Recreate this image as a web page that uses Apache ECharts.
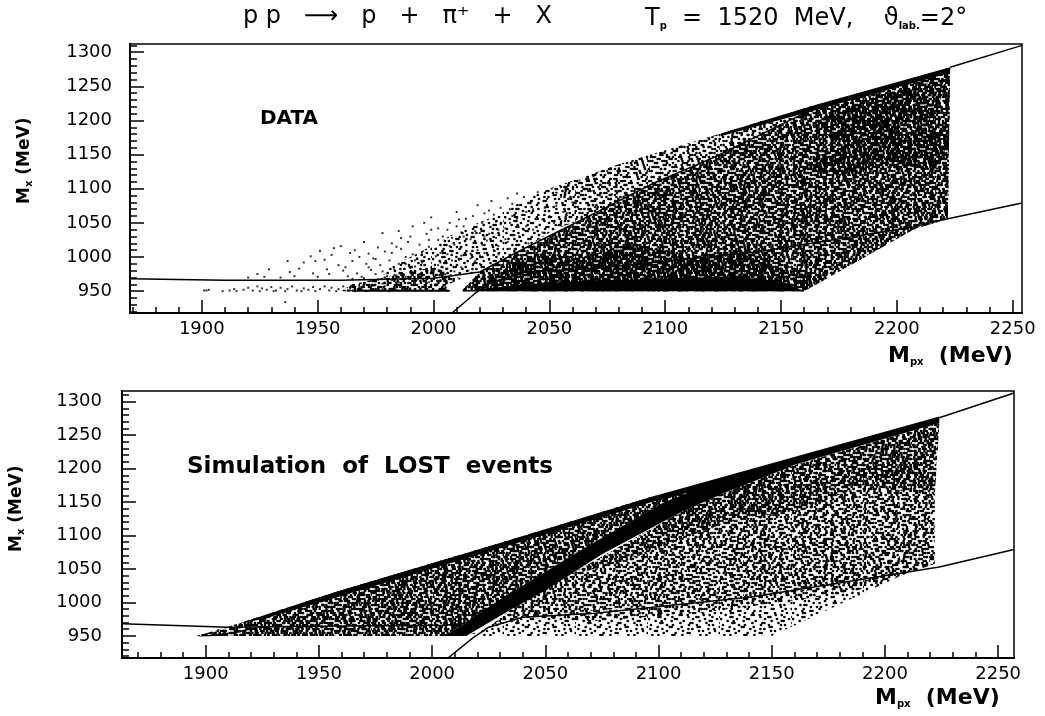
<!DOCTYPE html>
<html>
<head>
<meta charset="utf-8">
<style>html,body{margin:0;background:#fff}#chart{width:1045px;height:716px}</style>
<script src="https://cdn.jsdelivr.net/npm/echarts@6/dist/echarts.min.js"></script>
</head>
<body>
<div id="chart"></div>
<script>
const FONT = '"DejaVu Sans"';

// tick values
const xMajor = [1900, 1950, 2000, 2050, 2100, 2150, 2200, 2250];
const xMinor = [1870, 1880, 1890, 1910, 1920, 1930, 1940, 1960, 1970, 1980, 1990, 2010, 2020, 2030, 2040, 2060, 2070, 2080, 2090, 2110, 2120, 2130, 2140, 2160, 2170, 2180, 2190, 2210, 2220, 2230, 2240];
const yMajor = [950, 1000, 1050, 1100, 1150, 1200, 1250, 1300];
const yMinor = [920, 930, 940, 960, 970, 980, 990, 1010, 1020, 1030, 1040, 1060, 1070, 1080, 1090, 1110, 1120, 1130, 1140, 1160, 1170, 1180, 1190, 1210, 1220, 1230, 1240, 1260, 1270, 1280, 1290, 1310];

// kinematic limit lines
const topUpperLine = [[2223, 1278], [2254, 1310]];
const topMiddleLine = [[1869, 968], [1910, 966], [1960, 966], [2000, 969], [2020, 978], [2040, 1014], [2066, 1058], [2095, 1108], [2121, 1146], [2167, 1222]];
const topLowerLine = [[2008, 918], [2018, 947], [2025, 963], [2040, 978], [2072, 984], [2141, 1008], [2207, 1044], [2219, 1054], [2254, 1079]];
const botUpperLine = [[2224, 1276], [2257, 1313]];
const botMiddleLine = [[1863, 968], [1910, 963], [1960, 965], [2005, 966], [2015, 969], [2037, 1019]];
const botLowerLine = [[2007, 917], [2018, 947], [2025, 963], [2040, 978], [2072, 984], [2141, 1008], [2224, 1053], [2257, 1079]];

// isolated events of the DATA plot
const topSparse = [
  [1901,951],[1902,951],[1903,952],[1909,950],[1912,951],[1914,953],[1915,950],[1918,952],[1920,955],[1922,951],[1924,957],[1925,950],[1926,954],[1928,952],[1930,956],[1931,950],[1932,951],[1934,955],[1936,950],[1937,953],[1939,957],[1941,951],[1943,950],[1944,954],[1946,952],[1948,956],[1949,950],[1951,953],[1953,957],[1955,951],[1956,955],[1958,950],[1959,953],[1961,957],[1963,951],[1964,954],[1966,950],[1968,956],[1969,952],[1971,950],[1973,955],[1974,958],[1976,951],[1978,953],[1979,957],[1981,950],[1983,955],[1984,952],[1986,958],[1988,951],[1990,954],[1936,934],
  [1920,970],[1924,975],[1929,982],[1927,971],[1934,970],[1937,994],[1938,978],[1940,972],[1944,992],[1942,983],[1947,1001],[1948,976],[1950,971],[1951,1009],[1949,994],[1954,982],[1955,975],[1957,1013],[1953,996],[1959,988],[1960,1016],[1961,980],[1956,1003],[1963,972],[1964,1006],[1965,994],[1962,985],[1967,976],[1968,1000],[1969,971],[1970,1022],[1971,990],[1966,1010],[1973,981],[1974,998],[1975,975],[1976,1014],[1977,988],[1978,1035],[1972,1005],[1980,972],[1981,995],[1982,1020],[1983,982],[1979,1008],[1985,990],[1986,1028],[1987,975],[1988,1000],[1984,1015],[1990,984],[1991,1045],[1992,995],[1989,1022],[1994,975],[1995,1006],[1996,988],[1997,1034],[1993,998],[1999,1058],[2000,980],[2001,1012],[2002,1042],[2003,992],[1998,1025],[2005,975],[2006,1004],[2007,1050],[2004,985],[2009,1018],[2010,1066],[2011,996],[2012,1036],[2008,1008],[2014,1056],[2015,980],[2016,1026],[2017,990],[2013,1045],[2019,1076],[2020,1002],[2021,1018],[2022,1064],[2018,994],[2024,1034],[2025,1082],[2026,1010],[2027,1052],[2023,1024],[2029,1072],[2030,1000],[2031,1042],[2032,1086],[2028,1016],[2034,1060],[2035,1032],[2036,1093],[2037,1076],[2033,1050],[2039,1088],[2040,1066],
  [1996,1050],[1985,1038],[1990,1030],[2002,1025],[2006,1040],[2010,1045],[2013,1030],[2017,1060],[2021,1050],[2024,1068],[2028,1040],[2031,1058],[2034,1078],[2037,1030],[2040,1045],[2043,1070],[2045,1095],[2047,1055],[2049,1085],[2051,1100],[2053,1075],[2043,1040],[2046,1025],[2050,1060],[1998,1015],[2003,1006],[2008,1028],[2012,1014],[2016,1005],[2020,1035],[2023,1006],[2027,1028],[2031,1026],[2035,1012],[2038,1002],[2041,1020],
  [1972,985],[1975,997],[1978,979],[1982,1006],[1986,1012],[1991,1004],[1994,1018],[1997,1006],[1999,1040],[2001,1001],[2004,1030],[2007,1016],[2011,1055],[2014,1004],[2018,1038],[2022,1030],[2026,1062],[2029,1048],[2033,1070],[2036,1056],[2039,1040],[2042,1082],[2044,1012],[2047,1036],[2048,1072],[2052,1050],[2055,1088],[2058,1104],[2056,1066],[2060,1080],[2063,1112],[2062,1094],[2066,1100],[2069,1118],[2067,1076],[2072,1106],[2075,1126],[2077,1092],[2080,1130],
  [1965,968],[1970,969],[1976,967],[1982,966],[1988,971],[1993,967],[1998,963],[2001,960],[2003,966],[1992,960],[1985,963],[1978,961],[1970,960],[1995,973],[1990,978],[1984,973],[1979,970],[2000,978],[1997,982],[1992,986],[1988,990],[1995,992],[2002,988],[2006,983],[2009,979],[2012,985],[2016,998],[2020,990],[2024,996],[2019,1010],[2028,1004],[2033,1012],[2037,1018],[2032,1022],[2027,1018],[2022,1006],[2012,1002],[2008,995]
];

const topRegions = [
  { tile: 'pale', outline: [[1976,975],[1990,1000],[2000,1018],[2012,1040],[2028,1062],[2040,1085],[2050,1100],[2060,1078],[2052,1040],[2040,1014],[2020,978],[2003,972]] },
  { tile: 'soft', outline: [[2050,1100],[2081,1137],[2124,1181],[2167,1225],[2150,1190],[2121,1146],[2095,1108],[2085,1100],[2066,1085],[2060,1078]] },
  { tile: 'soft', outline: [[2066,1085],[2095,1108],[2066,1058],[2052,1040],[2060,1078]] },
  { tile: 'dark', outline: [[2020,978],[2040,1014],[2066,1058],[2095,1108],[2121,1146],[2167,1222],[2223,1278],[2222,1056],[2207,1040],[2160,950],[2012,950]] },
  { tile: 'darkest', outline: [[2160,1130],[2175,1120],[2195,1135],[2218,1128],[2222,1170],[2216,1200],[2222,1262],[2190,1235],[2165,1200],[2172,1170]] },
  { tile: 'darkest', outline: [[2020,958],[2160,958],[2168,968],[2150,985],[2135,1010],[2110,1002],[2085,1020],[2065,1000],[2045,1005],[2032,985]] },
  { tile: 'mid', outline: [[1960,950],[2007,950],[2005,958],[2012,968],[2000,985],[1985,975],[1965,960]] },
  { tile: 'solid', outline: [[2012,950],[2160,950],[2152,962],[2130,972],[2100,968],[2070,966],[2040,960]] },
  { tile: 'solid', outline: [[1965,949],[2007,949],[2007,952],[1965,952]] },
  { tile: 'solid', outline: [[2124,1181],[2167,1225],[2223,1278],[2223,1270],[2167,1217],[2124,1177]] }
];
const botRegions = [
  { tile: 'dark', outline: [[1896,950],[2005,950],[2015,969],[2037,1019],[2068,1083],[2102,1149],[2150,1200],[2150,1200],[2097,1158],[2037,1096],[1956,1014],[1915,969]] },
  { tile: 'dark', outline: [[2110,1135],[2130,1165],[2160,1205],[2224,1268],[2222,1160],[2190,1175],[2165,1140],[2130,1120],[2085,1062],[2060,1040]] },
  { tile: 'mid', outline: [[2025,963],[2035,990],[2060,1040],[2085,1062],[2130,1120],[2165,1140],[2190,1175],[2222,1160],[2222,1058],[2207,1040],[2160,1015],[2100,995],[2060,985],[2040,978]] },
  { tile: 'pale', outline: [[2015,950],[2150,950],[2207,1040],[2160,1015],[2100,995],[2060,985],[2040,978],[2025,963]] },
  { tile: 'soft', outline: [[2040,978],[2060,985],[2100,995],[2160,1015],[2207,1040],[2185,1015],[2120,985],[2070,972]] },
  { tile: 'solid', outline: [[2005,950],[2015,950],[2035,990],[2050,1018],[2075,1072],[2110,1135],[2130,1165],[2160,1205],[2150,1200],[2125,1180],[2102,1149],[2068,1083],[2037,1019],[2015,969]] },
  { tile: 'solid', outline: [[1915,969],[1956,1014],[2037,1096],[2097,1158],[2224,1278],[2224,1268],[2150,1196],[2097,1150],[2037,1088],[1956,1006],[1925,975]] },
  { tile: 'solid', outline: [[1896,949],[1912,956],[1925,965],[1915,955],[1905,950]] }
];

// stipple bitmaps, # is a black dot. Sizes differ so the layers do not line up
const tileRows = {
  a: [
    "#....##.....#...#.....##...#.....#..",
    "..#......#.....##..#.......#..#.....",
    "....##.....#.......#...##......#...#",
    "#.......#....##.......#.....#.....#.",
    "...#..#....#.....#.......#....##....",
    ".....##........#....##......#......#",
    ".#.......#..#.......#...#.....#.#...",
    "....#.....##....#.......##.........#",
    "#.....#.......#....#.#.......#..#...",
    "...##....#.......#.......#.#.....#..",
    ".......#.....#.....##.........#....#",
    ".#..#......##...#........#..#.......",
    "......#.#.......#....#.......##...#.",
    "#.........#..#......##..#..........#",
    "...#.##.........#........#...#.#....",
    ".........#..#.#.....#.#.......#.....",
    ".#...#.......#...........##.....#..#",
    "....#...##......#..#..........#....."
  ],
  b: [
    ".##......#....##.......#.",
    "....#.......#......##....",
    "#.....##.......#.......#.",
    "...#.......#.....##......",
    ".......#.#.....#.....#...",
    ".##.........#........#..#",
    ".....#.#.......##.......#",
    "#..........#.......#.....",
    "...##...#.......#.....#..",
    ".......#.....#.......##..",
    ".#.........##.....#......",
    "....#.#...........#...#..",
    "#.......#...#.........#.."
  ],
  c: [
    "...##.....#........##......#...",
    "#.......#.....##........#.....#",
    "...#........#.......#.....##...",
    ".......##.......#........#.....",
    ".#..........#.......##.......#.",
    ".....#..#........#........#....",
    "##..........##.......#.......#.",
    ".....#...........#.......##....",
    "..#......##...#........#......#",
    "......#..........#.#.........#.",
    "#...........#..........##......",
    "....##...#.......##.........#..",
    ".........#..#........#.#.......",
    ".#....#..........#.........#..#",
    "........#.##.........#.........",
    "..#..........#...........##....",
    "......##........#..#.........#."
  ],
  d: [
    "##..#....##..#...#.",
    "...##..#....##.#..#",
    "#....#..##.....##..",
    ".##.....#..#.#....#",
    "...#.##.....##..#..",
    "#....#..#.#.....##.",
    ".##.#.....##.#.....",
    "....##.#.....#..##.",
    "#.#.....##.#....#..",
    "...##.#....#..#...#",
    ".#....#.##....##..."
  ],
  e: [
    "#...##...#..#....##...#",
    "..#....#...#..##.....#.",
    "....#.#..#.....#..#....",
    ".##.....#...##....#.#..",
    "#...#.....#.....#....##",
    "..#...##.....#.#...#...",
    "#.....#..##.#....#....#",
    "...#.#.......#.#...##..",
    ".#.....#.#.#.......#.#."
  ]
};

const CELL = 2;

function makeTile(rows) {
  const c = document.createElement('canvas');
  c.width = rows[0].length * CELL;
  c.height = rows.length * CELL;
  const ctx = c.getContext('2d');
  ctx.fillStyle = '#000';
  rows.forEach((row, y) => {
    for (let x = 0; x < row.length; x++) {
      if (row[x] !== '#') continue;
      // stagger the rows a little so the dots do not sit in columns
      ctx.beginPath();
      ctx.arc(x * CELL + (y % 3) * 0.7 + 1, y * CELL + 1, 1.35, 0, Math.PI * 2);
      ctx.fill();
    }
  });
  return { image: c, repeat: 'repeat' };
}

const tiles = {
  a: makeTile(tileRows.a),
  b: makeTile(tileRows.b),
  c: makeTile(tileRows.c),
  d: makeTile(tileRows.d),
  e: makeTile(tileRows.e)
};

// each darkness level is a stack of fills
const fills = {
  solid: ['#000'],
  pale: [tiles.a],
  soft: [tiles.a, tiles.b],
  mid: [tiles.a, tiles.b, tiles.c],
  dark: [tiles.a, tiles.b, tiles.c, tiles.d],
  darkest: [tiles.a, tiles.b, tiles.c, tiles.d, tiles.e]
};

function regionSeries(region, axisIndex) {
  return {
    type: 'custom',
    xAxisIndex: axisIndex,
    yAxisIndex: axisIndex,
    silent: true,
    z: 2,
    data: region.outline,
    encode: { x: 0, y: 1 },
    renderItem: (params, api) => {
      if (params.dataIndex !== 0) return null;
      const points = region.outline.map(p => api.coord(p));
      return {
        type: 'group',
        children: fills[region.tile].map(fill => ({
          type: 'polygon',
          shape: { points },
          style: { fill }
        }))
      };
    }
  };
}

function lineSeries(points, axisIndex) {
  return {
    type: 'line',
    xAxisIndex: axisIndex,
    yAxisIndex: axisIndex,
    data: points,
    showSymbol: false,
    silent: true,
    z: 4,
    lineStyle: { color: '#000', width: 1.5 }
  };
}

function xAxes(gridIndex, min, max) {
  const base = {
    type: 'value', gridIndex, min, max, position: 'bottom', splitLine: { show: false },
    axisLine: { onZero: false, lineStyle: { color: '#000', width: 2 } }
  };
  return [
    { ...base, axisTick: { inside: true, length: 13, customValues: xMajor, lineStyle: { color: '#000', width: 1.5 } },
      axisLabel: { customValues: xMajor, margin: 7, color: '#000', fontFamily: FONT, fontSize: 18, formatter: v => String(v) } },
    { ...base, axisTick: { inside: true, length: 6, customValues: xMinor, lineStyle: { color: '#000', width: 1.5 } },
      axisLabel: { show: false } }
  ];
}

function yAxes(gridIndex, min, max, margin) {
  const base = {
    type: 'value', gridIndex, min, max, position: 'left', splitLine: { show: false },
    axisLine: { onZero: false, lineStyle: { color: '#000', width: 2 } }
  };
  return [
    { ...base, axisTick: { inside: true, length: 14, customValues: yMajor, lineStyle: { color: '#000', width: 1.5 } },
      axisLabel: { customValues: yMajor, margin, color: '#000', fontFamily: FONT, fontSize: 18, formatter: v => String(v) } },
    { ...base, axisTick: { inside: true, length: 7, customValues: yMinor, lineStyle: { color: '#000', width: 1.5 } },
      axisLabel: { show: false } }
  ];
}

const labelStyle = { fontFamily: FONT, fontSize: 17, fill: '#000' };
const rich = { sub: { fontFamily: FONT, fontSize: 10, fontWeight: 'bold', verticalAlign: 'bottom', padding: [8, 0, 0, 0] } };

function note(x, y, text, extra) {
  return { type: 'text', x, y, z: 10, style: { ...labelStyle, text, ...extra } };
}

const chart = echarts.init(document.getElementById('chart'), null, { renderer: 'canvas' });
chart.setOption({
  animation: false,
  backgroundColor: '#fff',
  grid: [
    { left: 130, top: 44, width: 892, height: 269, show: true, borderColor: '#000', borderWidth: 1.5 },
    { left: 122, top: 391, width: 892, height: 267, show: true, borderColor: '#000', borderWidth: 1.5 }
  ],
  xAxis: [...xAxes(0, 1869, 2254), ...xAxes(1, 1863, 2257)],
  yAxis: [...yAxes(0, 918, 1312, 18), ...yAxes(1, 917, 1316, 20)],
  graphic: [
    note(243, 5, 'p p   ⟶   p   +   π⁺   +   X', { fontSize: 24 }),
    note(645, 7, 'T{sub|p}  =  1520  MeV,    ϑ{sub|lab.}=2°', { fontSize: 24, rich }),
    note(260, 109, 'DATA', { fontSize: 20, fontWeight: 'bold' }),
    note(187, 456, 'Simulation  of  LOST  events', { fontSize: 23, fontWeight: 'bold' }),
    note(888, 345, 'M{sub|px}  (MeV)', { fontSize: 22, fontWeight: 'bold', rich }),
    note(875, 687, 'M{sub|px}  (MeV)', { fontSize: 22, fontWeight: 'bold', rich }),
    { type: 'text', x: 16, y: 204, rotation: Math.PI / 2, z: 10,
      style: { ...labelStyle, text: 'M{sub|x} (MeV)', fontSize: 17, fontWeight: 'bold', rich } },
    { type: 'text', x: 8, y: 552, rotation: Math.PI / 2, z: 10,
      style: { ...labelStyle, text: 'M{sub|x} (MeV)', fontSize: 17, fontWeight: 'bold', rich } }
  ],
  series: [
    ...topRegions.map(r => regionSeries(r, 0)),
    ...botRegions.map(r => regionSeries(r, 2)),
    { type: 'scatter', xAxisIndex: 0, yAxisIndex: 0, data: topSparse, symbol: 'rect', symbolSize: 2, silent: true, z: 3,
      itemStyle: { color: '#000' } },
    lineSeries(topUpperLine, 0),
    lineSeries(topMiddleLine, 0),
    lineSeries(topLowerLine, 0),
    lineSeries(botUpperLine, 2),
    lineSeries(botMiddleLine, 2),
    lineSeries(botLowerLine, 2)
  ]
});

window.addEventListener('resize', () => chart.resize());
</script>
</body>
</html>
